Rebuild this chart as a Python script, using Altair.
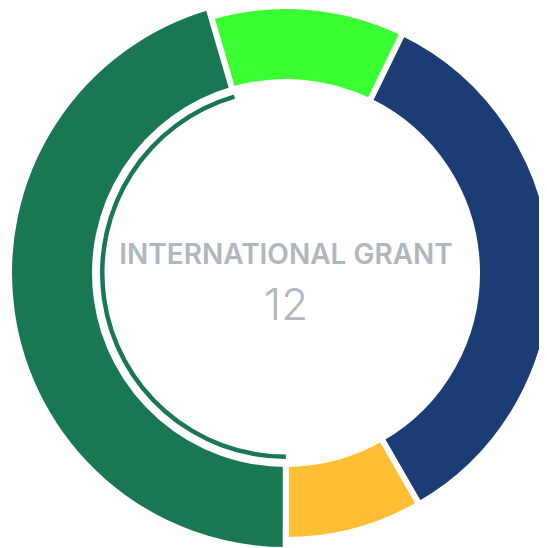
import math
import altair as alt
import pandas as pd

# Data
categories = ["NATIONAL GRANT", "PRIVATE GRANT", "LOCAL GRANT", "INTERNATIONAL GRANT"]
values = [3.1, 9.1, 2.2, 12]
colors = ["#3AFF33", "#1B3C74", "#FFBE33", "#1A7754"]
outer_r = [267, 267, 267, 277]
highlight = "INTERNATIONAL GRANT"
center_value = "12"

total = sum(values)
start = -16.3 * math.pi / 180

df = pd.DataFrame({
    "category": categories,
    "value": values,
    "order": list(range(len(categories))),
    "outer": outer_r,
})

cx, cy = 278, 265

base = alt.Chart(df).transform_window(
    cum="sum(value)", sort=[alt.SortField("order")]
).transform_calculate(start_v="datum.cum - datum.value")

theta = alt.Theta("start_v:Q", scale=alt.Scale(domain=[0, total], range=[start, start + 2 * math.pi]))
theta2 = alt.Theta2("cum:Q")
color = alt.Color("category:N", scale=alt.Scale(domain=categories, range=colors), legend=None)

donut = base.mark_arc(stroke="white", strokeWidth=6, radius2=191).encode(
    theta=theta, theta2=theta2, color=color,
    radius=alt.Radius("outer:Q", scale=None),
    x=alt.value(cx), y=alt.value(cy),
)

ring = base.transform_filter(alt.datum.category == highlight).mark_arc(
    radius=186, radius2=181.5
).encode(theta=theta, theta2=theta2, color=color, x=alt.value(cx), y=alt.value(cy))

label = base.transform_filter(alt.datum.category == highlight).mark_text(
    font="Inter", fontSize=28, fontWeight=600, color="#B0B7BE", align="center", baseline="alphabetic"
).encode(text="category:N", x=alt.value(cx), y=alt.value(256))

num = alt.Chart(pd.DataFrame({"t": [center_value]})).mark_text(
    font="Inter", fontSize=44, fontWeight=300, color="#B0B7BE", align="center", baseline="alphabetic"
).encode(text="t:N", x=alt.value(cx), y=alt.value(312))

chart = alt.layer(donut, ring, label, num).properties(
    width=531, height=540, padding=0, autosize=alt.AutoSizeParams(type="none")
).configure_view(stroke=None)

chart.save("out.html", embed_options={"renderer": "svg", "actions": False})
